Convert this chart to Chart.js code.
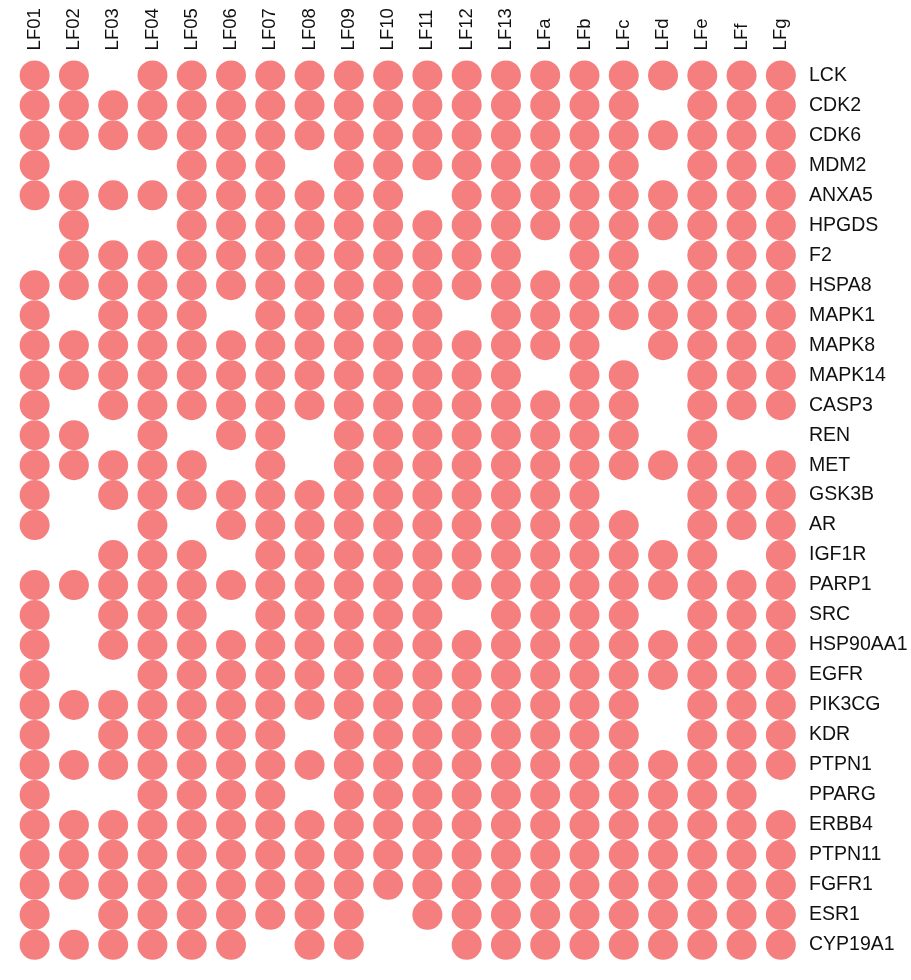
<!DOCTYPE html>
<html>
<head>
<meta charset="utf-8">
<title>Target matrix</title>
<script src="https://cdn.jsdelivr.net/npm/chart.js@4/dist/chart.umd.min.js"></script>
<style>
  html, body { margin: 0; padding: 0; background: #fff; }
  #wrap { width: 911px; height: 980px; position: relative; }
</style>
</head>
<body>
<div id="wrap"><canvas id="dotChart"></canvas></div>
<script>
/* ----- dati ----- */
const compounds = [
  "LF01", "LF02", "LF03", "LF04", "LF05", "LF06", "LF07", "LF08", "LF09", "LF10",
  "LF11", "LF12", "LF13", "LFa", "LFb", "LFc", "LFd", "LFe", "LFf", "LFg"
];

const targets = [
  "LCK", "CDK2", "CDK6", "MDM2", "ANXA5", "HPGDS", "F2", "HSPA8", "MAPK1", "MAPK8",
  "MAPK14", "CASP3", "REN", "MET", "GSK3B", "AR", "IGF1R", "PARP1", "SRC", "HSP90AA1",
  "EGFR", "PIK3CG", "KDR", "PTPN1", "PPARG", "ERBB4", "PTPN11", "FGFR1", "ESR1", "CYP19A1"
];

// 1 = hit, one row per target, one column per compound
const hits = [
  [1,1,0,1,1,1,1,1,1,1, 1,1,1,1,1,1,1,1,1,1], // LCK
  [1,1,1,1,1,1,1,1,1,1, 1,1,1,1,1,1,0,1,1,1], // CDK2
  [1,1,1,1,1,1,1,1,1,1, 1,1,1,1,1,1,1,1,1,1], // CDK6
  [1,0,0,0,1,1,1,0,1,1, 1,1,1,1,1,1,0,1,1,1], // MDM2
  [1,1,1,1,1,1,1,1,1,1, 0,1,1,1,1,1,1,1,1,1], // ANXA5
  [0,1,0,0,1,1,1,1,1,1, 1,1,1,1,1,1,1,1,1,1], // HPGDS
  [0,1,1,1,1,1,1,1,1,1, 1,1,1,0,1,1,0,1,1,1], // F2
  [1,1,1,1,1,1,1,1,1,1, 1,1,1,1,1,1,1,1,1,1], // HSPA8
  [1,0,1,1,1,0,1,1,1,1, 1,0,1,1,1,1,1,1,1,1], // MAPK1
  [1,1,1,1,1,1,1,1,1,1, 1,1,1,1,1,0,1,1,1,1], // MAPK8
  [1,1,1,1,1,1,1,1,1,1, 1,1,1,0,1,1,0,1,1,1], // MAPK14
  [1,0,1,1,1,1,1,1,1,1, 1,1,1,1,1,1,0,1,1,1], // CASP3
  [1,1,0,1,0,1,1,0,1,1, 1,1,1,1,1,1,0,1,0,0], // REN
  [1,1,1,1,1,0,1,0,1,1, 1,1,1,1,1,1,1,1,1,1], // MET
  [1,0,1,1,1,1,1,1,1,1, 1,1,1,1,1,0,0,1,1,1], // GSK3B
  [1,0,0,1,0,1,1,1,1,1, 1,1,1,1,1,1,0,1,1,1], // AR
  [0,0,1,1,1,0,1,1,1,1, 1,1,1,1,1,1,1,1,0,1], // IGF1R
  [1,1,1,1,1,1,1,1,1,1, 1,1,1,1,1,1,1,1,1,1], // PARP1
  [1,0,1,1,1,0,1,1,1,1, 1,0,1,1,1,1,0,1,1,1], // SRC
  [1,0,1,1,1,1,1,1,1,1, 1,1,1,1,1,1,1,1,1,1], // HSP90AA1
  [1,0,0,1,1,1,1,1,1,1, 1,1,1,1,1,1,1,1,1,1], // EGFR
  [1,1,1,1,1,1,1,1,1,1, 1,1,1,1,1,1,0,1,1,1], // PIK3CG
  [1,0,1,1,1,1,1,0,1,1, 1,1,1,1,1,1,0,1,1,1], // KDR
  [1,1,1,1,1,1,1,1,1,1, 1,1,1,1,1,1,1,1,1,1], // PTPN1
  [1,0,0,1,1,1,1,0,1,1, 1,1,1,1,1,1,1,1,1,0], // PPARG
  [1,1,1,1,1,1,1,1,1,1, 1,1,1,1,1,1,1,1,1,1], // ERBB4
  [1,1,1,1,1,1,1,1,1,1, 1,1,1,1,1,1,1,1,1,1], // PTPN11
  [1,1,1,1,1,1,1,1,1,1, 1,1,1,1,1,1,1,1,1,1], // FGFR1
  [1,0,1,1,1,1,1,1,1,0, 1,1,1,1,1,1,1,1,1,1], // ESR1
  [1,1,1,1,1,1,0,1,1,0, 0,1,1,1,1,1,1,1,1,1]  // CYP19A1
];

/* ----- punti ----- */
const points = [];
hits.forEach((row, r) => {
  row.forEach((v, c) => {
    if (v === 1) points.push({ x: compounds[c], y: targets[r] });
  });
});

/* ----- grafico ----- */
const labelFont = { family: "'Liberation Sans', Arial, sans-serif" };
const xFontSize = 18.5;

let dotChart = new Chart("dotChart", {
  type: "scatter",
  data: {
    datasets: [
      {
        data: points,
        backgroundColor: "#F57F7F",
        borderWidth: 0,
        pointRadius: 15,
        pointHoverRadius: 15,
      },
    ],
  },
  options: {
    responsive: true,
    maintainAspectRatio: false,
    animation: false,
    layout: { padding: { left: 8.5, right: 0, top: 0, bottom: 1.4 } },
    plugins: {
      legend: { display: false },
      tooltip: { enabled: false },
    },
    scales: {
      x: {
        type: "category",
        labels: compounds,
        position: "top",
        offset: true,
        grid: { display: false, drawTicks: false },
        border: { display: false },
        ticks: {
          autoSkip: false,
          minRotation: 90,
          maxRotation: 90,
          padding: 10,
          // rotated labels on a top axis get pushed left by one line height
          labelOffset: xFontSize * 1.2,
          color: "#111",
          font: { ...labelFont, size: xFontSize },
        },
        afterFit: (scale) => { scale.height = 60.4; },
      },
      y: {
        type: "category",
        labels: targets,
        position: "right",
        offset: true,
        grid: { display: false, drawTicks: false },
        border: { display: false },
        ticks: {
          autoSkip: false,
          padding: 8.5,
          color: "#111",
          font: { ...labelFont, size: 19.5 },
        },
        afterFit: (scale) => { scale.width = 110.5; },
      },
    },
  },
});
</script>
</body>
</html>
